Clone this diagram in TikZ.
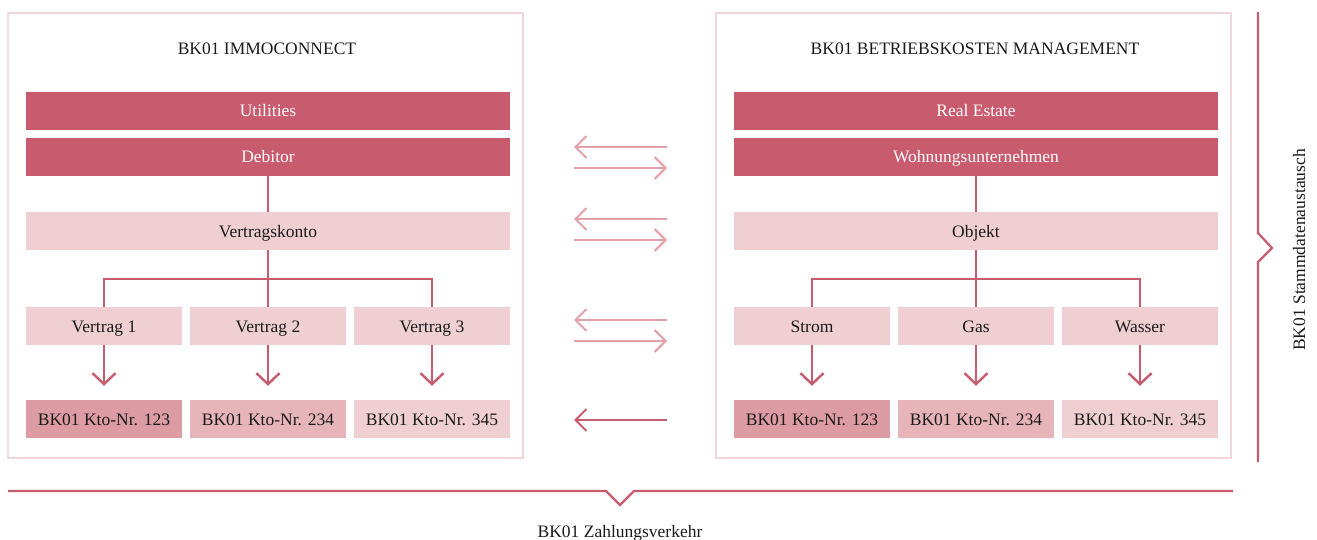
\documentclass[tikz,border=0pt]{standalone}
\usepackage{fontspec}
\setmainfont{Liberation Serif}
\usepackage{xcolor}
\usetikzlibrary{arrows.meta}

\definecolor{bkdark}{HTML}{C95B6F}
\definecolor{bkarrow}{HTML}{E3A0A8}
\definecolor{bklight}{HTML}{F0CFD3}
\definecolor{bkmid}{HTML}{E7B4BA}
\definecolor{bkdeep}{HTML}{DD9BA4}
\definecolor{bkframe}{HTML}{F2D6DA}
\definecolor{bktext}{HTML}{1A1A1A}

\tikzset{
  every node/.style={inner sep=0pt, font=\fontsize{17.5}{20}\selectfont, text=bktext,
    text height=12pt, text depth=0pt},
  panel/.style={draw=bkframe, line width=2pt, minimum width=515pt, minimum height=445pt},
  darkbar/.style={fill=bkdark, text=white!95!bklight, minimum width=484pt, minimum height=38pt},
  lightbar/.style={fill=bklight, minimum width=484pt, minimum height=38pt},
  smallbox/.style={fill=bklight, minimum width=156pt, minimum height=38pt},
  ktodeep/.style={smallbox, fill=bkdeep},
  ktomid/.style={smallbox, fill=bkmid},
  line/.style={draw=bkdark, line width=2.4pt},
  downarrow/.style={line, -{Straight Barb[length=11pt,width=23pt,line width=2.4pt]}, shorten >=14pt},
  swaparrow/.style={draw=bkarrow, line width=2pt, -{Straight Barb[length=11pt,width=22pt,line width=2pt]}},
  payarrow/.style={swaparrow, draw=bkdark},
  brace/.style={draw=bkdark, line width=2.2pt}
}

\begin{document}
\begin{tikzpicture}[x=1pt,y=-1pt]
\useasboundingbox (0,0) rectangle (1317,540);

\node[panel] (lpanel) at (265.5,235.5) {};
\node[panel] (rpanel) at (973.5,235.5) {};
\node (ltitle) at (267,49) {BK01 IMMOCONNECT};
\node (rtitle) at (975,49) {BK01 BETRIEBSKOSTEN MANAGEMENT};

\node[darkbar] (util) at (268,111) {Utilities};
\node[darkbar] (deb) at (268,157) {Debitor};
\node[lightbar] (vk) at (268,231) {Vertragskonto};
\node[smallbox] (v1) at (104,326) {Vertrag 1};
\node[smallbox] (v2) at (268,326) {Vertrag 2};
\node[smallbox] (v3) at (432,326) {Vertrag 3};
\node[ktodeep] (lk1) at (104,419) {BK01 Kto-Nr. 123};
\node[ktomid] (lk2) at (268,419) {BK01 Kto-Nr. 234};
\node[smallbox] (lk3) at (432,419) {BK01 Kto-Nr. 345};

\node[darkbar] (re) at (976,111) {Real Estate};
\node[darkbar] (wu) at (976,157) {Wohnungsunternehmen};
\node[lightbar] (obj) at (976,231) {Objekt};
\node[smallbox] (strom) at (812,326) {Strom};
\node[smallbox] (gas) at (976,326) {Gas};
\node[smallbox] (wasser) at (1140,326) {Wasser};
\node[ktodeep] (rk1) at (812,419) {BK01 Kto-Nr. 123};
\node[ktomid] (rk2) at (976,419) {BK01 Kto-Nr. 234};
\node[smallbox] (rk3) at (1140,419) {BK01 Kto-Nr. 345};

\coordinate (lfork) at (268,279);
\coordinate (rfork) at (976,279);
\draw[line] (deb.south) -- (vk.north);
\draw[line] (vk.south) -- (v2.north);
\draw[line] (v1.north) |- (lfork) -| (v3.north);
\draw[downarrow] (v1.south) -- (lk1.north);
\draw[downarrow] (v2.south) -- (lk2.north);
\draw[downarrow] (v3.south) -- (lk3.north);

\draw[line] (wu.south) -- (obj.north);
\draw[line] (obj.south) -- (gas.north);
\draw[line] (strom.north) |- (rfork) -| (wasser.north);
\draw[downarrow] (strom.south) -- (rk1.north);
\draw[downarrow] (gas.south) -- (rk2.north);
\draw[downarrow] (wasser.south) -- (rk3.north);

\coordinate (sa1l) at (574,147); \coordinate (sa1r) at (667,147);
\coordinate (sb1l) at (574,168); \coordinate (sb1r) at (667,168);
\coordinate (sa2l) at (574,219); \coordinate (sa2r) at (667,219);
\coordinate (sb2l) at (574,240); \coordinate (sb2r) at (667,240);
\coordinate (sa3l) at (574,320); \coordinate (sa3r) at (667,320);
\coordinate (sb3l) at (574,341); \coordinate (sb3r) at (667,341);
\coordinate (payl) at (574,420); \coordinate (payr) at (667,420);
\draw[swaparrow] (sa1r) -- (sa1l);
\draw[swaparrow] (sb1l) -- (sb1r);
\draw[swaparrow] (sa2r) -- (sa2l);
\draw[swaparrow] (sb2l) -- (sb2r);
\draw[swaparrow] (sa3r) -- (sa3l);
\draw[swaparrow] (sb3l) -- (sb3r);
\draw[payarrow] (payr) -- (payl);

\draw[brace] (1258,12) -- (1258,233) -- (1272,248) -- (1258,262) -- (1258,462);
\node[rotate=90] (stamm) at (1299,250) {BK01 Stammdatenaustausch};
\draw[brace] (8,491) -- (606,491) -- (620,505) -- (634,491) -- (1233,491);
\node (zahl) at (620,531) {BK01 Zahlungsverkehr};
\end{tikzpicture}
\end{document}
